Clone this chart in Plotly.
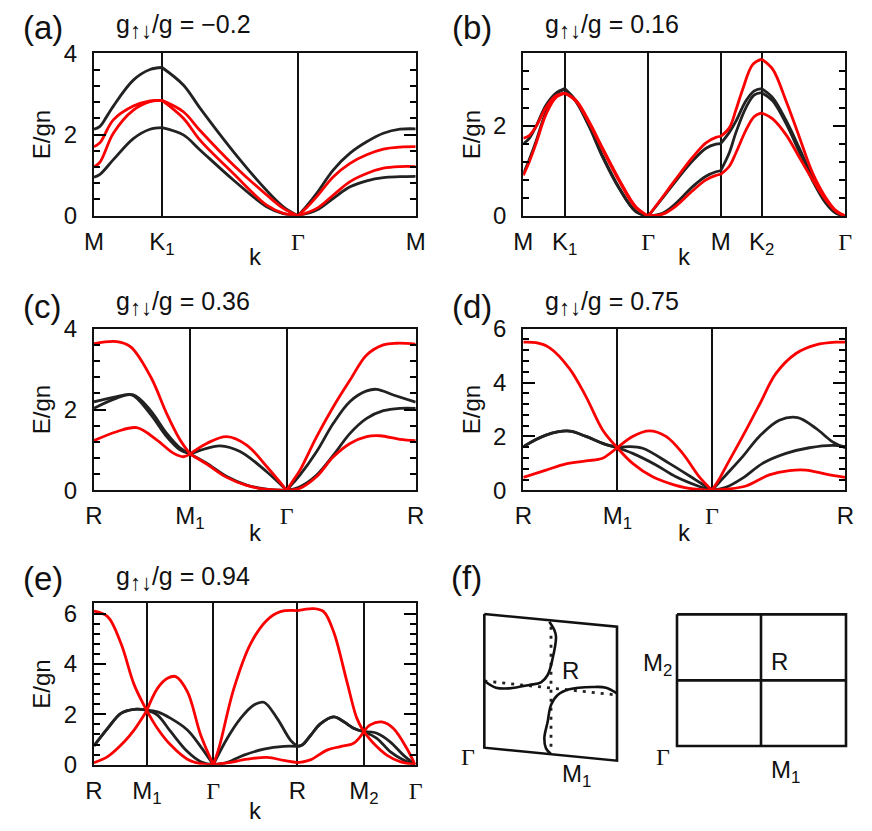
import plotly.graph_objects as go

# band energies: each curve is a list of segments between
# symmetry points, each segment a list of (k, E). k is an arbitrary axis unit.
BLACK = '#222222'
RED = '#fa0000'

A_TICKS = [282, 486, 894, 1247]
A_LABELS = ['M', 'K<sub>1</sub>', 'G', 'M']
A_BLACK_UP = [[(282,2.13),(300,2.2),(320,2.44),(340,2.7),(400,3.34),(450,3.6),(486,3.65)],
              [(486,3.65),(550,3.22),(600,2.65),(700,1.58),(800,.62),(850,.22),(894,0)],
              [(894,0),(920,.24),(950,.55),(1000,1.13),(1050,1.54),(1100,1.82),(1150,2.03),(1200,2.13),(1247,2.14)]]
A_BLACK_LOW = [[(282,.95),(300,1.02),(340,1.38),(400,1.9),(450,2.13),(486,2.17)],
               [(486,2.17),(550,1.99),(600,1.62),(700,.88),(800,.22),(850,.05),(894,0)],
               [(894,0),(950,.14),(1000,.43),(1050,.71),(1100,.86),(1150,.94),(1200,.96),(1247,.97)]]
A_RED_UP = [[(282,1.7),(300,1.8),(340,2.36),(400,2.7),(450,2.83),(486,2.84)],
            [(486,2.84),(550,2.56),(600,2.1),(700,1.25),(800,.51),(850,.18),(894,0)],
            [(894,0),(920,.2),(950,.47),(1000,.96),(1050,1.29),(1100,1.5),(1150,1.64),(1200,1.69),(1247,1.7)]]
A_RED_LOW = [[(282,1.2),(300,1.32),(340,2.03),(400,2.6),(450,2.81),(486,2.84)],
             [(486,2.84),(550,2.4),(600,1.86),(700,1.04),(800,.26),(850,.06),(894,0)],
             [(894,0),(950,.18),(1000,.51),(1050,.84),(1100,1.04),(1150,1.17),(1200,1.21),(1247,1.21)]]

B_TICKS = [262, 386, 637, 854, 977, 1228]
B_LABELS = ['M', 'K<sub>1</sub>', 'G', 'M', 'K<sub>2</sub>', 'G']
B_BLACK_UP = [[(262,1.6),(280,1.72),(300,1.98),(330,2.45),(360,2.72),(386,2.82)],
              [(386,2.82),(420,2.55),(460,2.0),(500,1.33),(550,.62),(600,.1),(637,0)],
              [(637,0),(680,.4),(720,.78),(770,1.22),(810,1.5),(840,1.59),(854,1.6)],
              [(854,1.6),(880,1.85),(900,2.1),(930,2.55),(955,2.77),(977,2.82)],
              [(977,2.82),(1010,2.62),(1050,2.12),(1090,1.5),(1130,.85),(1170,.33),(1200,.08),(1228,0)]]
B_BLACK_LOW = [[(262,.93),(280,1.25),(300,1.65),(330,2.3),(360,2.7),(386,2.8)],
               [(386,2.8),(420,2.53),(460,1.97),(500,1.3),(550,.6),(600,.09),(637,0)],
               [(637,0),(680,.06),(720,.28),(770,.65),(810,.88),(840,.98),(854,1.0)],
               [(854,1.0),(880,1.4),(900,1.85),(930,2.4),(955,2.68),(977,2.73)],
               [(977,2.73),(1010,2.55),(1050,2.05),(1090,1.42),(1130,.78),(1170,.28),(1200,.06),(1228,0)]]
B_RED_UP = [[(262,1.72),(280,1.78),(300,1.98),(330,2.4),(360,2.66),(386,2.72)],
            [(386,2.72),(420,2.56),(460,2.08),(500,1.5),(550,.8),(600,.2),(637,0)],
            [(637,0),(680,.42),(720,.82),(770,1.3),(810,1.62),(840,1.74),(854,1.76)],
            [(854,1.76),(880,1.95),(900,2.35),(920,2.8),(950,3.35),(977,3.47)],
            [(977,3.47),(1010,3.25),(1050,2.55),(1090,1.75),(1130,.95),(1170,.4),(1200,.12),(1228,0)]]
B_RED_LOW = [[(262,.9),(280,1.2),(300,1.6),(330,2.25),(360,2.62),(386,2.72)],
             [(386,2.72),(420,2.54),(460,2.05),(500,1.47),(550,.77),(600,.18),(637,0)],
             [(637,0),(680,.04),(720,.22),(770,.56),(810,.8),(840,.9),(854,.92)],
             [(854,.92),(880,1.1),(900,1.4),(930,1.9),(955,2.2),(977,2.28)],
             [(977,2.28),(1010,2.15),(1050,1.8),(1090,1.3),(1130,.8),(1170,.35),(1200,.1),(1228,0)]]

C_TICKS = [282, 570, 860, 1247]
C_LABELS = ['R', 'M<sub>1</sub>', 'G', 'R']
C_BLACK_UP = [[(282,2.19),(340,2.3),(400,2.36),(450,1.99),(500,1.41),(540,1.05),(570,.9)],
              [(570,.9),(620,1.04),(660,1.1),(720,.96),(800,.46),(860,0)],
              [(860,0),(880,.19),(900,.38),(950,.96),(1000,1.66),(1050,2.2),(1100,2.46),(1130,2.5),(1180,2.36),(1247,2.18)]]
C_BLACK_LOW = [[(282,2.03),(350,2.28),(395,2.36),(450,1.9),(500,1.33),(540,1.0),(570,.9)],
               [(570,.9),(620,.67),(680,.34),(740,.13),(800,.03),(860,0)],
               [(860,0),(900,.09),(950,.38),(1000,.87),(1050,1.41),(1100,1.78),(1150,1.97),(1200,2.03),(1247,2.03)]]
C_RED_UP = [[(282,3.63),(350,3.68),(392,3.55),(452,2.81),(500,1.9),(540,1.25),(570,.9)],
            [(570,.9),(620,1.16),(680,1.33),(740,1.12),(800,.59),(860,0)],
            [(860,0),(880,.25),(900,.5),(950,1.33),(1000,2.07),(1050,2.73),(1100,3.35),(1150,3.6),(1190,3.64),(1247,3.62)]]
C_RED_LOW = [[(282,1.23),(350,1.45),(410,1.55),(470,1.25),(520,.92),(550,.83),(570,.9)],
             [(570,.9),(620,.65),(680,.32),(740,.12),(800,.02),(860,0)],
             [(860,0),(900,.05),(950,.34),(1000,.83),(1050,1.16),(1100,1.33),(1140,1.35),(1200,1.26),(1247,1.23)]]

D_TICKS = [262, 544, 828, 1228]
D_LABELS = ['R', 'M<sub>1</sub>', 'G', 'R']
D_BLACK_UP = [[(262,1.62),(330,2.05),(400,2.2),(450,2.0),(500,1.74),(544,1.58)],
              [(544,1.58),(580,1.62),(620,1.56),(700,1.0),(780,.38),(828,0)],
              [(828,0),(850,.3),(870,.57),(920,1.25),(970,2.0),(1030,2.6),(1085,2.7),(1140,2.3),(1190,1.8),(1228,1.58)]]
D_BLACK_LOW = [[(262,1.62),(330,2.05),(400,2.2),(450,2.0),(500,1.74),(544,1.58)],
               [(544,1.58),(590,1.37),(660,.94),(720,.5),(790,.14),(828,0)],
               [(828,0),(870,.11),(920,.45),(980,1.0),(1050,1.37),(1120,1.58),(1190,1.67),(1228,1.62)]]
D_RED_UP = [[(262,5.5),(300,5.48),(340,5.3),(400,4.53),(450,3.48),(500,2.24),(544,1.58)],
            [(544,1.58),(590,2.0),(640,2.21),(690,2.0),(740,1.37),(790,.5),(828,0)],
            [(828,0),(850,.42),(870,.88),(920,2.0),(970,3.17),(1020,4.34),(1080,5.08),(1140,5.4),(1200,5.5),(1228,5.5)]]
D_RED_LOW = [[(262,.48),(330,.75),(390,.98),(450,1.09),(500,1.19),(525,1.4),(544,1.58)],
             [(544,1.58),(590,1.0),(650,.5),(700,.26),(760,.07),(828,0)],
             [(828,0),(870,.04),(930,.16),(1000,.57),(1060,.73),(1110,.75),(1170,.6),(1228,.48)]]

E_TICKS = [279, 438, 638, 891, 1091, 1247]
E_LABELS = ['R', 'M<sub>1</sub>', 'G', 'R', 'M<sub>2</sub>', 'G']
E_BLACK_UP = [[(279,.75),(320,1.44),(360,2.04),(400,2.2),(438,2.17)],
              [(438,2.17),(470,2.1),(510,1.84),(560,1.38),(600,.72),(638,0)],
              [(638,0),(680,1.05),(720,1.84),(760,2.37),(790,2.48),(830,1.84),(870,.98),(891,.73)],
              [(891,.73),(905,.78),(930,1.15),(960,1.62),(1000,1.9),(1020,1.8),(1060,1.45),(1091,1.31)],
              [(1091,1.31),(1130,1.25),(1170,.91),(1210,.38),(1245,0)]]
E_BLACK_LOW = [[(279,.75),(320,1.44),(360,2.04),(400,2.2),(438,2.17)],
               [(438,2.17),(470,1.97),(510,1.31),(560,.52),(600,.12),(638,0)],
               [(638,0),(680,.09),(730,.38),(790,.62),(850,.73),(891,.73)],
               [(891,.73),(905,.78),(930,1.15),(960,1.62),(1000,1.9),(1020,1.8),(1060,1.45),(1091,1.31)],
               [(1091,1.31),(1130,1.05),(1170,.52),(1210,.19),(1245,0)]]
E_RED_UP = [[(279,6.1),(320,5.88),(360,4.82),(400,3.17),(438,2.15)],
            [(438,2.15),(470,3.03),(500,3.43),(525,3.5),(560,2.9),(600,1.18),(638,0)],
            [(638,0),(650,.45),(660,.91),(700,3.03),(750,4.8),(800,5.75),(840,6.08),(891,6.12)],
            [(891,6.12),(940,6.2),(970,6.08),(1000,5.28),(1040,3.3),(1070,1.84),(1091,1.31)],
            [(1091,1.31),(1110,1.58),(1145,1.7),(1180,1.44),(1220,.65),(1245,0)]]
E_RED_LOW = [[(279,.08),(320,.32),(370,.91),(400,1.38),(438,2.15)],
             [(438,2.15),(470,1.44),(510,.78),(560,.22),(600,.04),(638,0)],
             [(638,0),(680,.07),(740,.22),(800,.29),(850,.17),(891,.08)],
             [(891,.08),(930,.19),(980,.58),(1020,.72),(1060,.85),(1091,1.31)],
             [(1091,1.31),(1120,.85),(1160,.38),(1200,.12),(1245,0)]]

# panel (f) schematic, in the units of its own hidden axes
F_SKEW_X = [145, 543, 543, 145, 145]
F_SKEW_Y = [177, 215, 617, 578, 177]
F_RECT_X = [723, 1230, 1230, 723, 723]
F_RECT_Y = [178, 178, 573, 573, 178]
F_CROSS_V_X = [975, 975]
F_CROSS_V_Y = [178, 573]
F_CROSS_H_X = [723, 1230]
F_CROSS_H_Y = [376, 376]
F_SOLID_1_X = [340, 355, 360, 350, 335, 315, 280, 220, 180, 145]
F_SOLID_1_Y = [200, 225, 245, 310, 360, 382, 390, 400, 398, 378]
F_SOLID_2_X = [543, 510, 470, 400, 365, 345, 335, 325, 330, 345]
F_SOLID_2_Y = [415, 398, 396, 403, 420, 450, 500, 550, 580, 597]
F_DOT_V_X = [345, 345]
F_DOT_V_Y = [215, 590]
F_DOT_H_X = [145, 543]
F_DOT_H_Y = [378, 420]

PANELS = [
    ('(a)', '\u22120.2', A_TICKS, A_LABELS, [A_BLACK_UP, A_BLACK_LOW, A_RED_UP, A_RED_LOW], 4, (94, 415.7, 53.3, 215.7), (28, 27, 257)),
    ('(b)', '0.16', B_TICKS, B_LABELS, [B_BLACK_UP, B_BLACK_LOW, B_RED_UP, B_RED_LOW], 3.6, (523.3, 845.3, 53.3, 216), (28, 27, 257)),
    ('(c)', '0.36', C_TICKS, C_LABELS, [C_BLACK_UP, C_BLACK_LOW, C_RED_UP, C_RED_LOW], 4, (94, 415.7, 328.7, 490.3), (306, 303, 532)),
    ('(d)', '0.75', D_TICKS, D_LABELS, [D_BLACK_UP, D_BLACK_LOW, D_RED_UP, D_RED_LOW], 6, (523.3, 845.3, 328.7, 490.3), (306, 303, 532)),
    ('(e)', '0.94', E_TICKS, E_LABELS, [E_BLACK_UP, E_BLACK_LOW, E_RED_UP, E_RED_LOW], 6.41, (94, 415.7, 603.3, 764.7), (578, 578, 810)),
]

# the page has an 8px body margin, so the figure is 8px smaller and coordinates shift
PAGE = 8
W, H = 872 - PAGE, 831 - PAGE
SANS = 'Liberation Sans'
SERIF = 'Liberation Serif'


def px(x):
    return (x - PAGE) / W


def py(y):
    return 1 - (y - PAGE) / H


def label(text, x, y, size=24, xanchor='center', font=SANS):
    return dict(text=text, x=px(x), y=py(y), xref='paper', yref='paper', showarrow=False,
                xanchor=xanchor, yanchor='middle', font=dict(family=font, size=size, color='#111'))


def gamma(lab):
    return f'<span style="font-family:{SERIF}">\u0393</span>' if lab == 'G' else lab


fig = go.Figure()
notes = []
layout = {}

for n, (tag, val, ticks, labs, curves, ymax, box, ypos) in enumerate(PANELS, start=1):
    left, right, y0, y1 = box
    suffix = '' if n == 1 else str(n)
    for c, curve in enumerate(curves):
        for seg in curve:
            fig.add_trace(go.Scatter(
                x=[p[0] for p in seg], y=[p[1] for p in seg], mode='lines',
                line=dict(color=BLACK if c < 2 else RED, width=2.8, shape='spline', smoothing=1.0),
                xaxis='x' + suffix, yaxis='y' + suffix, showlegend=False, hoverinfo='skip'))
    layout['xaxis' + suffix] = dict(
        domain=[px(left), px(right)], anchor='y' + suffix, range=[ticks[0], ticks[-1]],
        tickvals=ticks, ticktext=[gamma(t) for t in labs], ticks='', ticklabelstandoff=3,
        tickfont=dict(family=SANS, size=24, color='#111'), showline=True, linecolor='#111',
        linewidth=2.2, mirror=True, showgrid=True, gridcolor='#111', gridwidth=1.8, zeroline=False,
        automargin=False)
    layout['yaxis' + suffix] = dict(
        domain=[py(y1), py(y0)], anchor='x' + suffix, range=[0, ymax], tick0=0, dtick=2,
        ticks='inside', ticklen=12, tickwidth=2, tickcolor='black', showgrid=False, zeroline=False,
        showline=True, linecolor='#111', linewidth=2.2, mirror='ticks', ticklabelstandoff=10,
        tickfont=dict(family=SANS, size=24, color='#111'), automargin=False,
        minor=dict(dtick=0.4, ticks='inside', ticklen=6, tickwidth=2, tickcolor='black'),
        title=dict(text='E/gn', font=dict(family=SANS, size=24, color='#111'), standoff=6))
    notes.append(label(tag, left - 73, ypos[0], size=33, xanchor='left'))
    notes.append(label(f'g<sub><span style="font-size:22px">\u2191\u2193</span></sub>/g = {val}',
                       left + 20, ypos[1], size=25, xanchor='left'))
    notes.append(label('k', left + 161, ypos[2]))

# panel (f)
for xs, ys in [(F_DOT_V_X, F_DOT_V_Y), (F_DOT_H_X, F_DOT_H_Y)]:
    fig.add_trace(go.Scatter(x=xs, y=ys, mode='lines', line=dict(color=BLACK, width=2.8, dash='3px,6px'),
                             xaxis='x6', yaxis='y6', showlegend=False, hoverinfo='skip'))
for xs, ys, shape in [(F_SKEW_X, F_SKEW_Y, 'linear'), (F_RECT_X, F_RECT_Y, 'linear'),
                      (F_CROSS_V_X, F_CROSS_V_Y, 'linear'), (F_CROSS_H_X, F_CROSS_H_Y, 'linear'),
                      (F_SOLID_1_X, F_SOLID_1_Y, 'spline'), (F_SOLID_2_X, F_SOLID_2_Y, 'spline')]:
    fig.add_trace(go.Scatter(x=xs, y=ys, mode='lines', line=dict(color='#111', width=2.6, shape=shape),
                             xaxis='x6', yaxis='y6', showlegend=False, hoverinfo='skip'))
layout['xaxis6'] = dict(domain=[px(436), 1], anchor='y6', range=[0, 1308], visible=False, automargin=False)
layout['yaxis6'] = dict(domain=[py(825), py(555)], anchor='x6', range=[810, 0], visible=False, automargin=False)

notes.append(label('(f)', 449, 577, size=33, xanchor='left'))
for text, x, y, font in [('R', 570, 670, SANS), ('\u0393', 468, 757, SERIF), ('M<sub>1</sub>', 576, 775, SANS),
                         ('M<sub>2</sub>', 657, 664, SANS), ('R', 779, 661, SANS), ('\u0393', 663, 757, SERIF),
                         ('M<sub>1</sub>', 785, 771, SANS)]:
    notes.append(label(text, x, y, font=font))

fig.update_layout(width=W, height=H, margin=dict(l=0, r=0, t=0, b=0), paper_bgcolor='white',
                  plot_bgcolor='white', annotations=notes, **layout)
fig.write_html("out.html")
